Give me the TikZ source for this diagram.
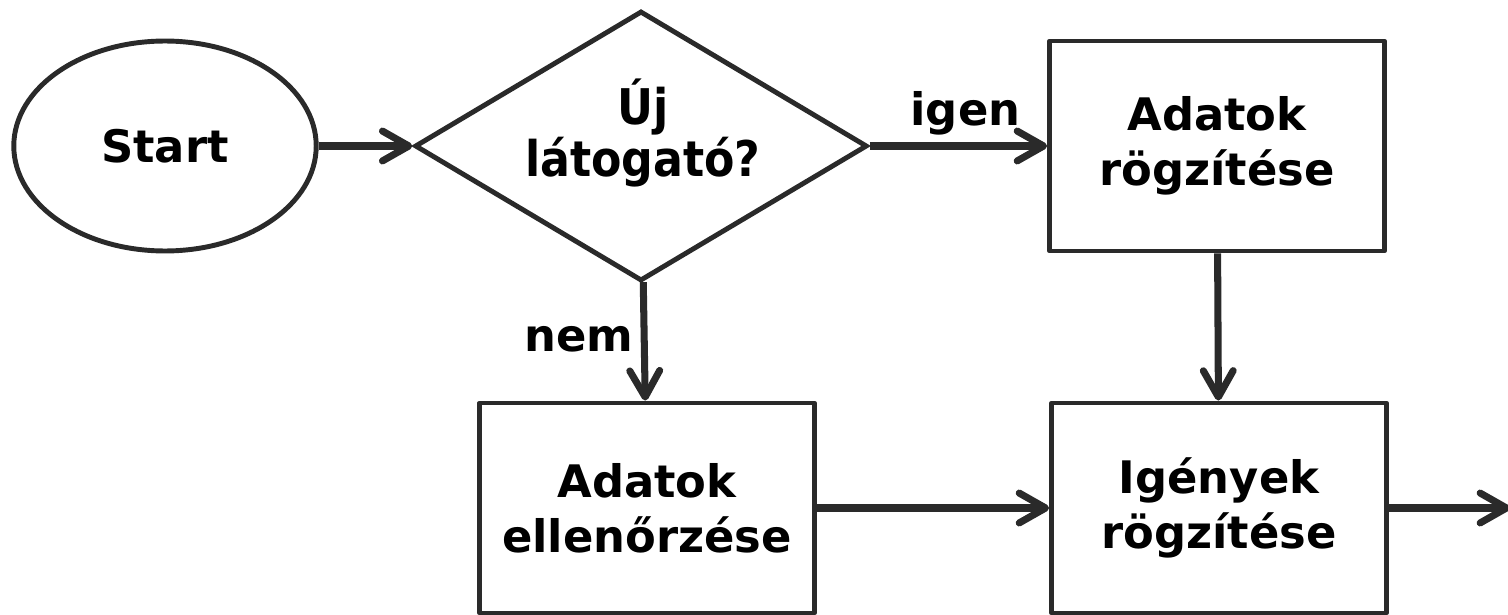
\documentclass[tikz,border=0pt]{standalone}
\usepackage{fontspec}
\setmainfont{DejaVu Sans}
\newfontfamily\askfont{DejaVu Sans Condensed}
\usetikzlibrary{arrows.meta,positioning,shapes.geometric}
\definecolor{ink}{HTML}{2A2A2A}
\tikzset{
  startnode/.style={draw=ink,ellipse,line width=2.8pt,minimum width=6.05cm,minimum height=4.2cm,inner sep=0pt},
  decide/.style={draw=ink,diamond,aspect=1.7,line width=2.8pt,minimum width=9.05cm,minimum height=5.4cm,inner sep=0pt},
  asktext/.style={align=center,inner sep=0pt,font=\askfont\bfseries\fontsize{28}{24.5}\selectfont},
  procbox/.style={draw=ink,rectangle,line width=2.8pt,line join=round,minimum width=6.7cm,minimum height=4.2cm,align=center,inner sep=0pt},
  flow/.style={-{Straight Barb[length=15pt,width=17pt,line cap=round,line join=round]},line width=4pt,draw=ink},
  lbl/.style={inner sep=4pt}
}
\begin{document}
\begin{tikzpicture}[x=0.02cm,y=-0.02cm,font=\bfseries\fontsize{25.5}{31.5}\selectfont]
  \useasboundingbox (0,0) rectangle (1508,615);
  \node[startnode] (start) at (165,146) {Start};
  \node[decide] (new) at (641,146) {};
  \node[asktext] (newtxt) at (643,133) {Új\\látogató?};
  \node[procbox] (rec) at (1217,146) {Adatok\\rögzítése};
  \node[procbox] (chk) at (647,508) {Adatok\\ellenőrzése};
  \node[procbox] (req) at (1219,508) {Igények\\rögzítése};
  \coordinate (out) at (1510,508);
  % connectors
  \draw[flow] (start) -- (new);
  \draw[flow] (new) -- node[lbl,above,pos=0.54] (yes) {igen} (rec);
  \draw[flow] (new) -- node[lbl,left,pos=0.48] (no) {nem} (chk);
  \draw[flow] (rec) -- (req);
  \draw[flow] (chk) -- (req);
  \draw[flow] (req) -- (out);
\end{tikzpicture}
\end{document}
